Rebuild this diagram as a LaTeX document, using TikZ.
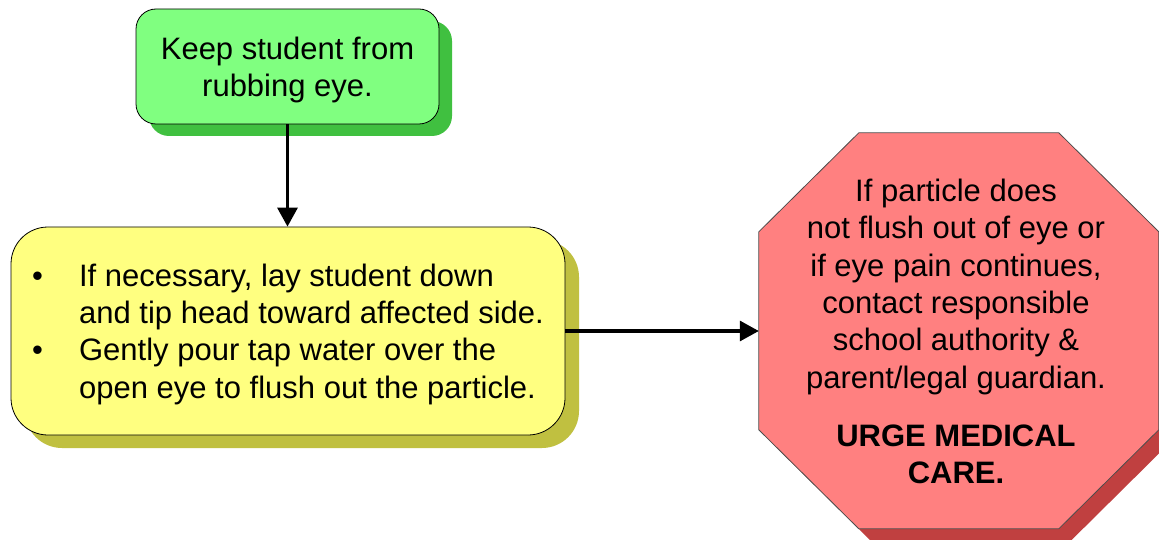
\documentclass[tikz,border=0pt]{standalone}
\usepackage{fontspec}
\setmainfont{Liberation Sans}
\usetikzlibrary{arrows.meta,shadows,calc}
\definecolor{gfill}{HTML}{80FF80}
\definecolor{gshadow}{HTML}{40C040}
\definecolor{yfill}{HTML}{FFFF80}
\definecolor{yshadow}{HTML}{C0C040}
\definecolor{rfill}{HTML}{FF8080}
\definecolor{rshadow}{HTML}{C04040}
\begin{document}
\begin{tikzpicture}[x=1pt,y=-1pt,
  box/.style={draw=black, line width=0.8pt, align=center, inner sep=0pt},
  txt/.style={font=\fontsize{31}{37.4}\selectfont},
  conn/.style={line width=3.2pt, -{Triangle[length=19pt,width=20pt]}},
  octo/.style={draw=black!70, line width=0.8pt, fill=rfill},
]
\useasboundingbox (0,0) rectangle (1159,540);
% green box
\node[box, txt, fill=gfill, rounded corners=20pt, minimum width=303pt, minimum height=115pt,
  drop shadow={shadow xshift=13pt,shadow yshift=-12pt,fill=gshadow,opacity=1}]
  (keep) at (287.5,66.5) {\rule{0pt}{30pt}Keep student from\\rubbing eye.};
% yellow box
\node[box, txt, fill=yfill, rounded corners=37pt, minimum width=554pt, minimum height=208pt, align=left,
  drop shadow={shadow xshift=14pt,shadow yshift=-13pt,fill=yshadow,opacity=1}]
  (flush) at (288,331) {\rule{0pt}{29pt}\makebox[47pt][l]{\textbullet}If necessary, lay student down\\
  \hspace*{47pt}and tip head toward affected side.\\
  \makebox[47pt][l]{\textbullet}Gently pour tap water over the\\
  \hspace*{47pt}open eye to flush out the particle.};
% octagon
\node[minimum width=400pt, minimum height=396pt, inner sep=0pt] (stop) at (959,331) {};
\fill[rshadow] ($(stop.north west)+(112,12)$) -- ++(200,0) -- ++(100,99) -- ++(0,198)
  -- ++(-100,99) -- ++(-200,0) -- ++(-100,-99) -- ++(0,-198) -- cycle;
\path[octo] ($(stop.north west)+(100,0)$) -- ++(200,0) -- ++(100,99) -- ++(0,198)
  -- ++(-100,99) -- ++(-200,0) -- ++(-100,-99) -- ++(0,-198) -- cycle;
\node[txt, align=center] (stoptxt) at (956,331.5) {If particle does\\not flush out of eye or\\if eye pain continues,\\contact responsible\\school authority \&\\parent/legal guardian.\\[20.6pt]\textbf{URGE MEDICAL}\\\textbf{CARE.}};
% connectors
\draw[conn] (keep.south) -- (keep.south |- flush.north);
\draw[conn] (flush.east) -- (stop.west);
\end{tikzpicture}
\end{document}
